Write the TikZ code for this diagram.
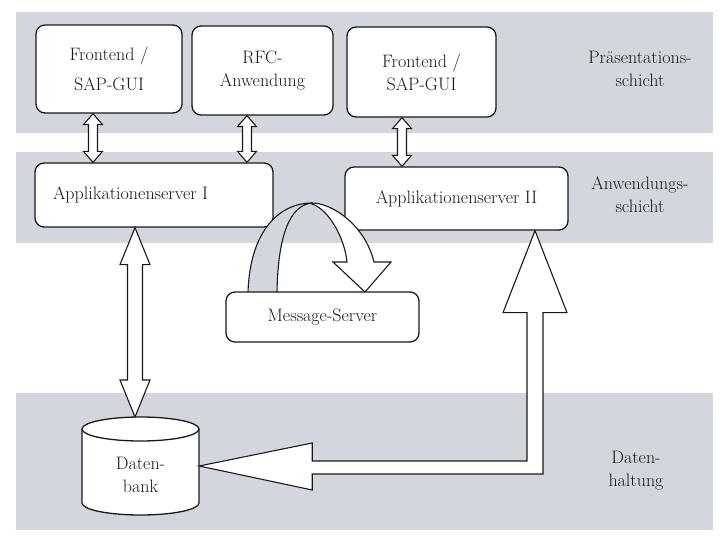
\documentclass[tikz,border=0pt]{standalone}
\usetikzlibrary{calc}
\definecolor{bandgray}{RGB}{211,214,220}
\definecolor{inkc}{RGB}{25,25,25}
\newcommand{\fs}{\fontsize{18}{23}\selectfont}
\newcommand{\vdarrow}[5]{%
  \draw[fatarrow] let \p1=#1, \p2=#2 in
   (\x1,\y1) -- (\x1+#4pt,\y1-#5pt) -- (\x1+#3pt,\y1-#5pt) -- (\x1+#3pt,\y2+#5pt)
   -- (\x1+#4pt,\y2+#5pt) -- (\x1,\y2) -- (\x1-#4pt,\y2+#5pt) -- (\x1-#3pt,\y2+#5pt)
   -- (\x1-#3pt,\y1-#5pt) -- (\x1-#4pt,\y1-#5pt) -- cycle;}
\begin{document}
\begin{tikzpicture}[x=1pt,y=1pt,
  box/.style={draw=inkc,line width=1.3pt,rounded corners=9pt,fill=white,align=center,inner sep=0pt,font=\fs,text=inkc},
  fatarrow/.style={draw=inkc,line width=1.1pt,fill=white,line join=miter},
  lbl/.style={align=center,font=\fs,text=inkc,inner sep=0pt}]
\useasboundingbox (0,0) rectangle (721,539);
\fill[white] (0,0) rectangle (721,539);
% layer bands
\fill[bandgray] (16,406) rectangle (713,527);
\fill[bandgray] (16,296) rectangle (713,387);
\fill[bandgray] (16,9) rectangle (713,146);
% layer labels
\node[lbl] (lp) at (640,470) {Präsentations-\\schicht};
\node[lbl] (la) at (640,344) {Anwendungs-\\schicht};
\node[lbl] (ld) at (636,68) {Daten-\\haltung};
% boxes
\node[box,minimum width=146pt,minimum height=88pt] (fe1) at (109,470) {Frontend /\\[7pt]SAP-GUI};
\node[box,minimum width=141pt,minimum height=89pt] (rfc) at (262.5,468.5) {RFC-\\Anwendung};
\node[box,minimum width=149pt,minimum height=90pt] (fe2) at (421.5,467) {Frontend /\\SAP-GUI};
\node[box,minimum height=64pt,minimum width=238pt] (as1) at (154,344) {\makebox[202pt][l]{Applikationenserver I}};
\node[box,minimum width=223pt,minimum height=63pt] (as2) at (456.5,340.5) {Applikationenserver II};
% database cylinder
\draw[fill=white,draw=inkc,line width=1.3pt] (82,110) -- (82,36)
  arc[start angle=180,end angle=360,x radius=58.5pt,y radius=12pt] -- (199,110)
  arc[start angle=0,end angle=180,x radius=58.5pt,y radius=12pt] -- cycle;
\draw[draw=inkc,line width=1.3pt] (82,110) arc[start angle=180,end angle=360,x radius=58.5pt,y radius=12pt];
\node[lbl,minimum width=117pt,minimum height=70pt] (db) at (140.5,64) {Daten-\\bank};
\coordinate (dbtop) at (140.5,122);
% small double arrows
\vdarrow{(93,0 |- fe1.south)}{(93,0 |- as1.north)}{4.5}{9.5}{11}
\vdarrow{(247,0 |- rfc.south)}{(247,0 |- as1.north)}{4.5}{9.5}{11}
\vdarrow{(402,0 |- fe2.south)}{(402,0 |- as2.north)}{4.5}{9.5}{11}
% big double arrow
\vdarrow{(135,0 |- as1.south)}{(135,0 |- dbtop)}{7.5}{15}{37}
% L-shaped arrow from Datenbank to Applikationenserver II
\draw[fatarrow] let \p1=($(db.east)+(0,9)$), \p2=(535,0 |- as2.south) in
  (\p1) -- (\x1+113pt,\y1+23pt) -- (\x1+113pt,\y1+5pt) -- (\x2-8pt,\y1+5pt)
  -- (\x2-8pt,\y2-82pt) -- (\x2-32pt,\y2-82pt) -- (\p2) -- (\x2+32pt,\y2-82pt)
  -- (\x2+8pt,\y2-82pt) -- (\x2+8pt,\y1-8pt) -- (\x1+113pt,\y1-8pt) -- (\x1+113pt,\y1-24pt) -- cycle;
% curved arrow to Message-Server
\draw[fill=bandgray,draw=inkc,line width=1.1pt,line join=round] (248,247) .. controls (250,309) and (280,336) .. (312,336)
  .. controls (290,334) and (278,304) .. (277,247);
\draw[fill=white,draw=inkc,line width=1.1pt,line join=miter] (312,336) .. controls (332,336) and (365,314) .. (374,277)
  -- (391,277) -- (365,247) -- (333,277) -- (347,277) .. controls (345,299) and (330,329) .. (312,335) -- cycle;
\node[box,minimum width=193pt,minimum height=50pt] (ms) at (322.5,222) {Message-Server};
\end{tikzpicture}
\end{document}
